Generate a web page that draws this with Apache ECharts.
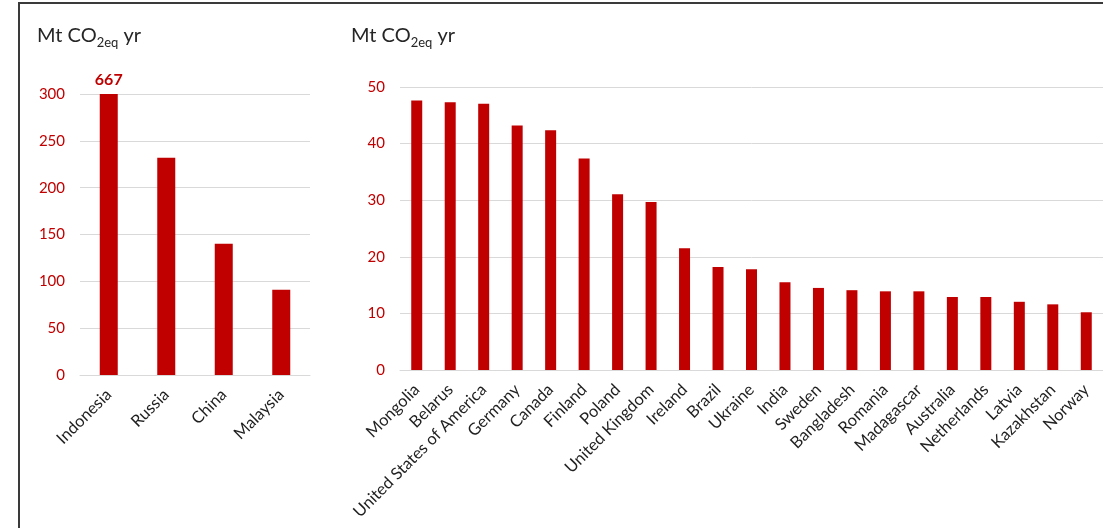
<!DOCTYPE html>
<html>
<head>
<meta charset="utf-8">
<script src="https://cdn.jsdelivr.net/npm/echarts@6/dist/echarts.min.js"></script>
<style>html,body{margin:0;padding:0;background:#fff}#c{width:1103px;height:528px}</style>
</head>
<body>
<div id="c"></div>
<script>
const leftCategories = ['Indonesia', 'Russia', 'China', 'Malaysia'];
const leftValues = [667, 232, 140, 91];
const leftAxisMax = 300;
const leftAxisInterval = 50;

const rightCategories = ['Mongolia', 'Belarus', 'United States of America', 'Germany', 'Canada', 'Finland', 'Poland', 'United Kingdom', 'Ireland', 'Brazil', 'Ukraine', 'India', 'Sweden', 'Bangladesh', 'Romania', 'Madagascar', 'Australia', 'Netherlands', 'Latvia', 'Kazakhstan', 'Norway'];
const rightValues = [47.6, 47.3, 47.05, 43.2, 42.35, 37.35, 31.05, 29.7, 21.5, 18.2, 17.8, 15.5, 14.5, 14.1, 13.9, 13.9, 12.9, 12.9, 12.05, 11.6, 10.2];
const rightAxisMax = 50;
const rightAxisInterval = 10;

const RED = '#c00000';
const FONT = 'Lato';

const titleRich = {
  m: { fontSize: 20, fontWeight: 'normal', color: '#262626', fontFamily: FONT, lineHeight: 26, verticalAlign: 'middle' },
  s: { fontSize: 13, fontWeight: 'normal', color: '#262626', fontFamily: FONT, lineHeight: 13, verticalAlign: 'bottom' }
};
const titleText = '{m|Mt CO}{s|2eq}{m| yr}';

function catAxis(idx, cats) {
  return {
    type: 'category', gridIndex: idx, data: cats,
    axisLine: { lineStyle: { color: '#d9d9d9' } },
    axisTick: { show: false },
    axisLabel: { rotate: 45, interval: 0, margin: 17, fontSize: 16.5, fontFamily: FONT, color: '#1f1f1f' }
  };
}
function valAxis(idx, max, interval) {
  return {
    type: 'value', gridIndex: idx, min: 0, max: max, interval: interval,
    axisLine: { show: false }, axisTick: { show: false },
    splitLine: { lineStyle: { color: '#d9d9d9' } },
    axisLabel: { margin: 15, fontSize: 15, fontFamily: FONT, color: RED }
  };
}

const chart = echarts.init(document.getElementById('c'), null, { renderer: 'canvas' });
chart.setOption({
  animation: false,
  backgroundColor: '#fff',
  title: [
    { text: titleText, left: 37, top: 23, padding: 0, textStyle: { fontWeight: 'normal', rich: titleRich } },
    { text: titleText, left: 351, top: 23, padding: 0, textStyle: { fontWeight: 'normal', rich: titleRich } }
  ],
  graphic: [{
    type: 'rect', silent: true, z: 100,
    shape: { x: 19, y: 3, width: 1300, height: 700 },
    style: { fill: 'none', stroke: '#3a3a3a', lineWidth: 2 }
  }],
  grid: [
    { left: 80, top: 94, width: 230, height: 281 },
    { left: 400, top: 87, width: 715, height: 283 }
  ],
  xAxis: [catAxis(0, leftCategories), catAxis(1, rightCategories)],
  yAxis: [valAxis(0, leftAxisMax, leftAxisInterval), valAxis(1, rightAxisMax, rightAxisInterval)],
  series: [
    {
      type: 'bar', xAxisIndex: 0, yAxisIndex: 0, barWidth: 18,
      itemStyle: { color: RED },
      data: leftValues.map(v => ({
        value: Math.min(v, leftAxisMax),
        label: { show: v > leftAxisMax, formatter: String(v) }
      })),
      label: { position: 'top', distance: 6, fontSize: 16, fontWeight: 'bold', fontFamily: FONT, color: RED }
    },
    {
      type: 'bar', xAxisIndex: 1, yAxisIndex: 1, barWidth: 11,
      itemStyle: { color: RED },
      data: rightValues
    }
  ]
});
</script>
</body>
</html>
